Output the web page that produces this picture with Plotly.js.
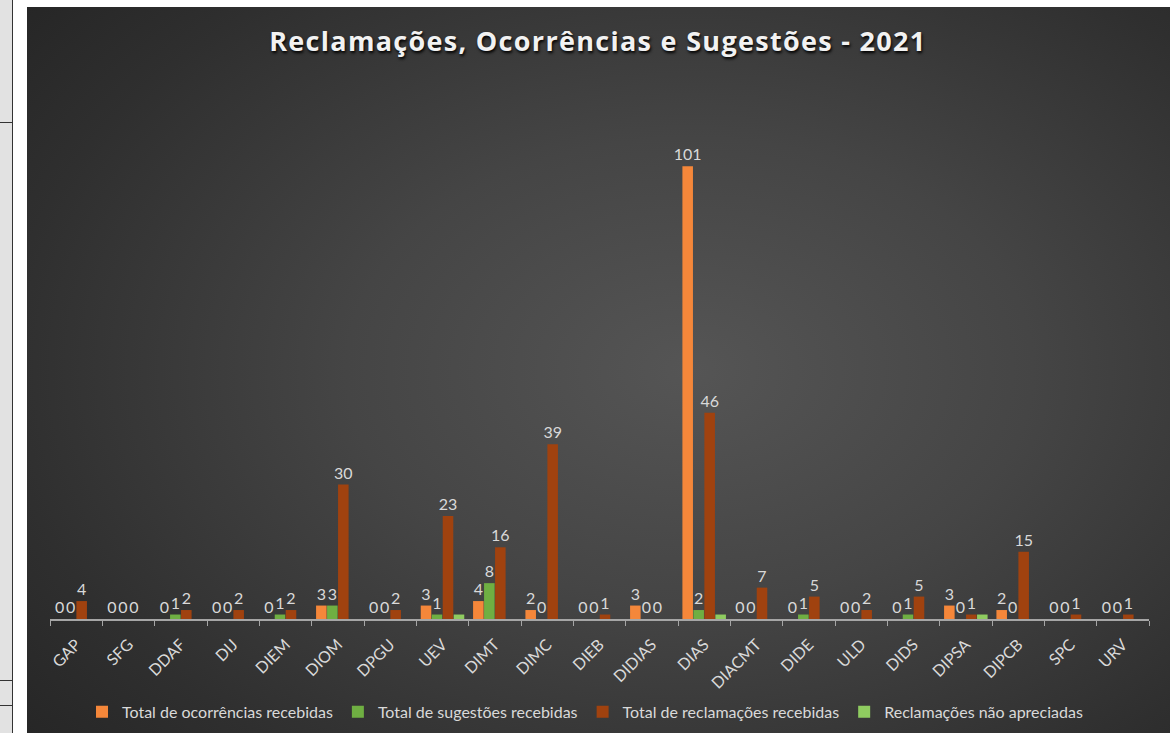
<!DOCTYPE html>
<html>
<head>
<meta charset="utf-8">
<script src="https://cdn.plot.ly/plotly-3.0.1.min.js"></script>
<style>
  html, body { margin:0; padding:0; width:1170px; height:733px; overflow:hidden; background:#ffffff; }
  #strip { position:absolute; left:0; top:0; width:12px; height:733px; background:#e2e2e2; border-right:1px solid #333; }
  .hl { position:absolute; left:0; width:13px; height:1px; background:#333; }
  #bg { position:absolute; left:27px; top:7px; width:1143px; height:726px;
        background: radial-gradient(ellipse 75% 80% at 58% 50%, #555555 0%, #454545 40%, #2f2f2f 80%, #262626 100%); }
  #chart { position:absolute; left:0; top:0; width:1170px; height:733px; }
  .gtitle { letter-spacing: 1.3px; }
</style>
</head>
<body>
<div id="strip"></div>
<div class="hl" style="top:122px"></div>
<div class="hl" style="top:680px"></div>
<div class="hl" style="top:705px"></div>
<div id="bg"></div>
<div id="chart"></div>
<script>
const categories = ["GAP","SFG","DDAF","DIJ","DIEM","DIOM","DPGU","UEV","DIMT","DIMC","DIEB","DIDIAS","DIAS","DIACMT","DIDE","ULD","DIDS","DIPSA","DIPCB","SPC","URV"];
const ocorrencias   = [0,0,0,0,0,3,0,3,4,2,0,3,101,0,0,0,0,3,2,0,0];
const sugestoes     = [0,0,1,0,1,3,0,1,8,0,0,0,2,0,1,0,1,0,0,0,0];
const reclamacoes   = [4,0,2,2,2,30,2,23,16,39,1,0,46,7,5,2,5,1,15,1,1];
const naoApreciadas = [0,0,0,0,0,0,0,1,0,0,0,0,1,0,0,0,0,1,0,0,0];

const labelFont = {family:"Lato, 'Open Sans', sans-serif", size:16, color:"#d9d9d9"};

function series(name, y, color, withText) {
  const t = {
    type:"bar", name:name, x:categories, y:y,
    marker:{color:color},
    cliponaxis:false
  };
  if (withText) {
    t.text = y.map(String);
    t.textposition = "outside";
    t.constraintext = "none";
    t.textfont = labelFont;
    t.outsidetextfont = labelFont;
  }
  return t;
}

const data = [
  series("Total de ocorrências recebidas", ocorrencias, "#f5873a", true),
  series("Total de sugestões recebidas", sugestoes, "#6faf42", true),
  series("Total de reclamações recebidas", reclamacoes, "#a0420f", true),
  series("Reclamações não apreciadas", naoApreciadas, "#8fcc60", false)
];

const layout = {
  width:1170, height:733,
  paper_bgcolor:"rgba(0,0,0,0)", plot_bgcolor:"rgba(0,0,0,0)",
  margin:{l:50, r:21, t:100, b:114},
  barmode:"group", bargap:0.16, bargroupgap:0.04,
  title:{text:"Reclamações, Ocorrências e Sugestões - 2021", x:0.511, xanchor:"center", y:0.943, yanchor:"middle",
         font:{family:"'Open Sans', sans-serif", size:27, color:"#f2f2f2", weight:700, shadow:"1px 2px 3px #000"}},
  xaxis:{type:"category", tickangle:-45, tickson:"boundaries", ticks:"outside", ticklen:5, tickcolor:"#a6a6a6",
         showline:true, linecolor:"#a6a6a6", linewidth:2, showgrid:false, zeroline:false, automargin:false,
         ticklabelstandoff:8,
         tickfont:{family:"Lato, 'Open Sans', sans-serif", size:16, color:"#d9d9d9"}},
  yaxis:{range:[0,115.8], visible:false, showgrid:false, zeroline:false, automargin:false},
  showlegend:true,
  legend:{orientation:"h", x:0.5, xanchor:"center", xref:"container", y:0.029, yref:"container", yanchor:"middle",
          font:{family:"Lato, 'Open Sans', sans-serif", size:16, color:"#d9d9d9"},
          itemwidth:30, traceorder:"normal", bgcolor:"rgba(0,0,0,0)"},
  font:{family:"Lato, sans-serif", color:"#d9d9d9"}
};

Plotly.newPlot("chart", data, layout, {displayModeBar:false, staticPlot:true});
</script>
</body>
</html>
